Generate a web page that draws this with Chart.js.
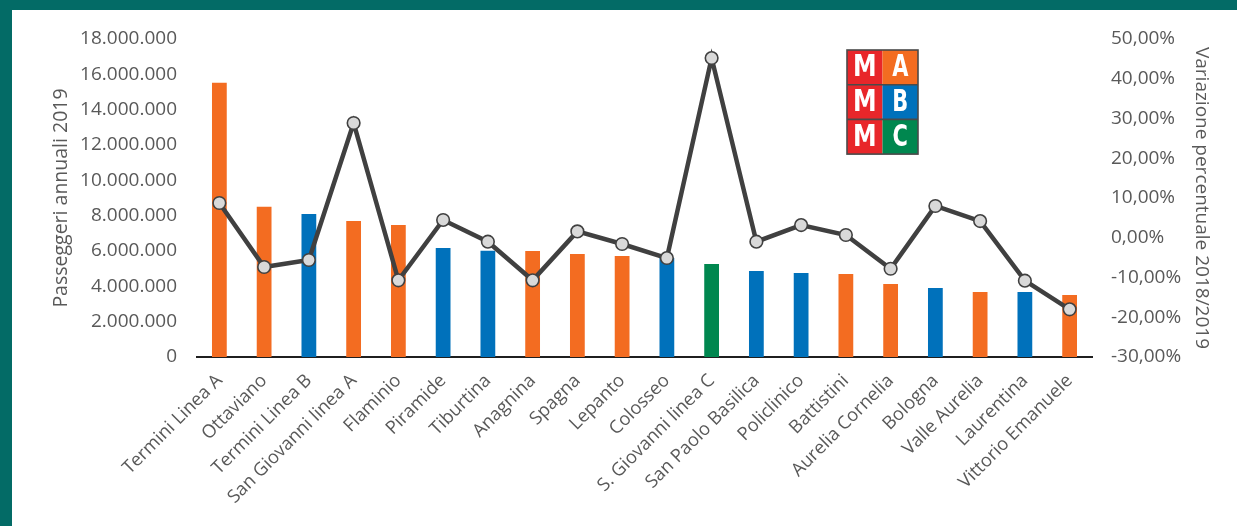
<!DOCTYPE html>
<html lang="it">
<head>
<meta charset="utf-8">
<title>Passeggeri metro Roma 2019</title>
<script src="https://cdn.jsdelivr.net/npm/chart.js@4.4.1/dist/chart.umd.min.js"></script>
<style>
  html, body { margin: 0; padding: 0; }
  body { width: 1237px; height: 526px; background: #036b66; overflow: hidden; position: relative; }
  #frame { position: absolute; left: 12px; top: 10px; width: 1225px; height: 516px; background: #ffffff; }
  canvas { display: block; }
</style>
</head>
<body>
<div id="frame"><canvas id="chart" width="1225" height="516"></canvas></div>
<script>
// Stazioni della metropolitana di Roma
const stations = [
  'Termini Linea A', 'Ottaviano', 'Termini Linea B', 'San Giovanni linea A', 'Flaminio',
  'Piramide', 'Tiburtina', 'Anagnina', 'Spagna', 'Lepanto',
  'Colosseo', 'S. Giovanni linea C', 'San Paolo Basilica', 'Policlinico', 'Battistini',
  'Aurelia Cornelia', 'Bologna', 'Valle Aurelia', 'Laurentina', 'Vittorio Emanuele'
];

// Linea di appartenenza di ciascuna stazione
const stationLine = ['A','A','B','A','A','B','B','A','A','A','B','C','B','B','A','A','B','A','B','A'];

// Passeggeri annuali 2019
const passengers2019 = [
  15530000, 8510000, 8090000, 7700000, 7470000,
  6170000, 6020000, 6000000, 5830000, 5720000,
  5600000, 5260000, 4870000, 4750000, 4700000,
  4130000, 3910000, 3680000, 3680000, 3510000
];

// Variazione percentuale 2018/2019
const change2018to2019 = [
  8.74, -7.36, -5.60, 28.87, -10.70,
  4.47, -0.99, -10.70, 1.60, -1.57,
  -5.10, 45.20, -0.99, 3.20, 0.69,
  -7.80, 7.99, 4.20, -10.80, -18.00
];

// Tacche degli assi
const leftTicks = [0, 2000000, 4000000, 6000000, 8000000, 10000000, 12000000, 14000000, 16000000, 18000000];
const rightTicks = [-30, -20, -10, 0, 10, 20, 30, 40, 50];

const lineColors = { A: '#f36c21', B: '#0071bb', C: '#00874f' };
const textColor = '#595959';
const fontFamily = "'Open Sans', 'Noto Sans', sans-serif";

const fmtThousands = v => Math.round(v).toString().replace(/\B(?=(\d{3})+(?!\d))/g, '.');
const fmtPercent = v => v.toFixed(2).replace('.', ',') + '%';

// Logo della metropolitana (M A / M B / M C)
const metroLogo = {
  id: 'metroLogo',
  afterDraw(chart) {
    const ctx = chart.ctx;
    const x = 835, y = 40, cw = 35.5, rh = 34.7;
    const rows = [['A', lineColors.A], ['B', lineColors.B], ['C', lineColors.C]];
    ctx.save();
    rows.forEach(([letter, col], i) => {
      const ry = y + i * rh;
      ctx.fillStyle = '#e8262a';
      ctx.fillRect(x, ry, cw, rh);
      ctx.fillStyle = col;
      ctx.fillRect(x + cw, ry, cw, rh);
      ctx.fillStyle = '#ffffff';
      ctx.textAlign = 'center';
      ctx.textBaseline = 'middle';
      ctx.font = "bold 31px 'DejaVu Sans Condensed', 'DejaVu Sans', sans-serif";
      // lettere condensate come nel marchio
      ctx.save();
      ctx.translate(x + cw / 2, ry + rh / 2 + 1);
      ctx.scale(0.85, 1);
      ctx.fillText('M', 0, 0);
      ctx.restore();
      ctx.save();
      ctx.translate(x + cw * 1.5, ry + rh / 2 + 1);
      ctx.scale(0.75, 1);
      ctx.fillText(letter, 0, 0);
      ctx.restore();
    });
    ctx.strokeStyle = '#4a4a4a';
    ctx.lineWidth = 1.6;
    ctx.strokeRect(x, y, cw * 2, rh * 3);
    ctx.beginPath();
    ctx.moveTo(x, y + rh); ctx.lineTo(x + cw * 2, y + rh);
    ctx.moveTo(x, y + 2 * rh); ctx.lineTo(x + cw * 2, y + 2 * rh);
    ctx.stroke();
    ctx.restore();
  }
};

new Chart(document.getElementById('chart'), {
  data: {
    labels: stations,
    datasets: [
      {
        type: 'line',
        label: 'Variazione percentuale 2018/2019',
        data: change2018to2019,
        yAxisID: 'yRight',
        order: 0,
        borderColor: '#404040',
        borderWidth: 4.5,
        tension: 0,
        pointRadius: 6.3,
        pointHoverRadius: 6.3,
        pointBackgroundColor: '#d9d9d9',
        pointBorderColor: '#404040',
        pointBorderWidth: 1.6
      },
      {
        type: 'bar',
        label: 'Passeggeri annuali 2019',
        data: passengers2019,
        yAxisID: 'yLeft',
        order: 1,
        backgroundColor: stationLine.map(l => lineColors[l]),
        categoryPercentage: 1,
        barPercentage: 0.33
      }
    ]
  },
  plugins: [metroLogo],
  options: {
    responsive: false,
    animation: false,
    layout: { padding: { top: 29, left: 38, right: 24, bottom: 0 } },
    plugins: {
      legend: { display: false },
      tooltip: { enabled: false }
    },
    scales: {
      x: {
        grid: { display: false, drawTicks: false },
        border: { display: true, color: '#1f1f1f', width: 2 },
        ticks: {
          color: textColor,
          font: { family: fontFamily, size: 18.3 },
          minRotation: 45,
          maxRotation: 45,
          autoSkip: false,
          padding: 13
        },
        afterFit(scale) { scale.height = 169; }
      },
      yLeft: {
        type: 'linear',
        position: 'left',
        min: 0,
        max: 18000000,
        afterBuildTicks(scale) { scale.ticks = leftTicks.map(v => ({ value: v })); },
        grid: { display: false, drawTicks: false },
        border: { display: false },
        ticks: {
          color: textColor,
          font: { family: fontFamily, size: 19, lineHeight: 0.8 },
          padding: 20,
          callback: v => fmtThousands(v)
        },
        title: {
          display: true,
          text: 'Passeggeri annuali 2019',
          color: textColor,
          font: { family: fontFamily, size: 19.5 },
          padding: { top: 0, bottom: 0 }
        },
        afterFit(scale) { scale.width = 147; }
      },
      yRight: {
        type: 'linear',
        position: 'right',
        min: -30,
        max: 50,
        afterBuildTicks(scale) { scale.ticks = rightTicks.map(v => ({ value: v })); },
        grid: { display: false, drawTicks: false },
        border: { display: false },
        ticks: {
          color: textColor,
          font: { family: fontFamily, size: 19, lineHeight: 0.8 },
          padding: 19,
          callback: v => fmtPercent(v)
        },
        title: {
          display: true,
          text: 'Variazione percentuale 2018/2019',
          color: textColor,
          font: { family: fontFamily, size: 19 },
          padding: { top: 0, bottom: 0 }
        },
        afterFit(scale) { scale.width = 121; }
      }
    }
  }
});
</script>
</body>
</html>
